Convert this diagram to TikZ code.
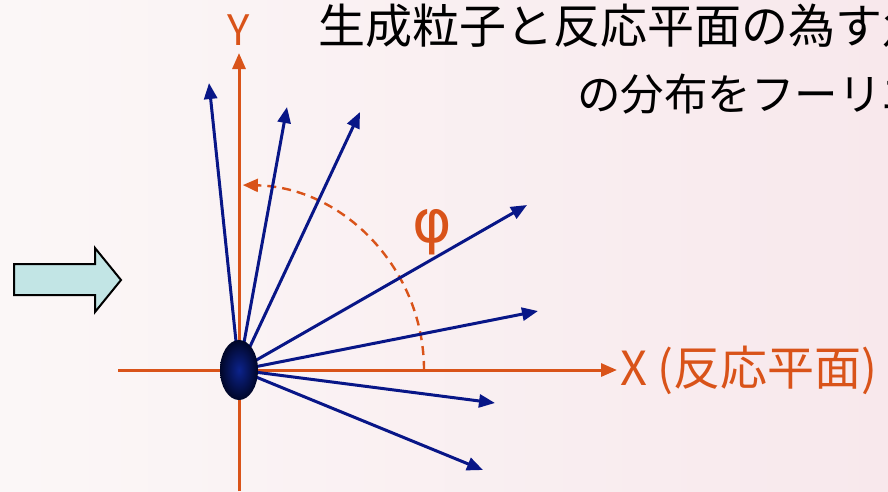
\documentclass[tikz,border=0pt]{standalone}
\usepackage{fontspec}
\usetikzlibrary{arrows.meta}
\newfontfamily\jpfont{Noto Sans CJK JP}
\newfontfamily\greekfont{DejaVu Sans}
\definecolor{bgleft}{RGB}{251,247,247}
\definecolor{bgright}{RGB}{248,232,236}
\definecolor{axisorange}{RGB}{217,83,25}
\definecolor{partblue}{RGB}{8,22,135}
\definecolor{arrowfill}{RGB}{194,229,229}
\definecolor{blobin}{RGB}{12,35,140}
\definecolor{blobout}{RGB}{0,6,40}
\tikzset{
  axisline/.style={draw=axisorange, line width=3pt},
  particle/.style={draw=partblue, line width=3pt, -{Triangle[length=16pt,width=13pt]}},
  titletext/.style={anchor=west, inner sep=0pt, text=black},
  orangetext/.style={inner sep=0pt, text=axisorange},
}
\begin{document}
\begin{tikzpicture}[x=1pt,y=-1pt]
\useasboundingbox (0,0) rectangle (888,491);
\begin{scope}
\clip (0,0) rectangle (888,491);
\shade[left color=bgleft, right color=bgright] (0,0) rectangle (888,491);
% title
\node[titletext, font={\jpfont\fontsize{47}{50}\selectfont}] (title1) at (318,26) {生成粒子と反応平面の為す角};
\node[titletext, font={\jpfont\fontsize{43.5}{50}\selectfont}] (title2) at (577,94) {の分布をフーリエ展開};
\end{scope}
% block arrow
\draw[fill=arrowfill, draw=black, line width=2pt, line join=miter]
  (14,264) -- (95,264) -- (95,248) -- (121,280) -- (95,312) -- (95,295) -- (14,295) -- cycle;
% coordinates
\coordinate (O) at (239,370);
\coordinate (xl) at (118,370);
\coordinate (xr) at (617,370);
\coordinate (yb) at (239,491);
\coordinate (yt) at (239,53);
% axes
\draw[axisline] (xl) -- (O);
\draw[axisline, -{Triangle[length=16pt,width=13pt]}] (O) -- (xr);
\draw[axisline, -{Triangle[length=16pt,width=13pt]}] (yb) -- (yt);
\node[orangetext, font={\jpfont\fontsize{42}{44}\selectfont}] (ylab) at (239,30) {Y};
\node[orangetext, anchor=west, font={\jpfont\fontsize{47}{50}\selectfont}] (xlab) at (620,370) {X (反応平面)};
% angle arc
\draw[draw=axisorange, line width=2.4pt, dash pattern=on 9pt off 6pt, -{Triangle[length=15pt,width=13pt]}]
  (O) ++(0:185) arc[start angle=0, end angle=-88.8, radius=185];
\node[orangetext, font={\greekfont\fontsize{60}{64}\selectfont}] (phi) at (432,232) {φ};
% particles
\coordinate (p1) at (209,83);
\coordinate (p2) at (287,107);
\coordinate (p3) at (360,112);
\coordinate (p4) at (527,205);
\coordinate (p5) at (538,311);
\coordinate (p6) at (495,403);
\coordinate (p7) at (483,470);
\foreach \p in {p1,p2,p3,p4,p5,p6,p7} { \draw[particle] (O) -- (\p); }
% source blob
\shade[inner color=blobin, outer color=blobout] (O) ellipse[x radius=19, y radius=30];
\end{tikzpicture}
\end{document}
